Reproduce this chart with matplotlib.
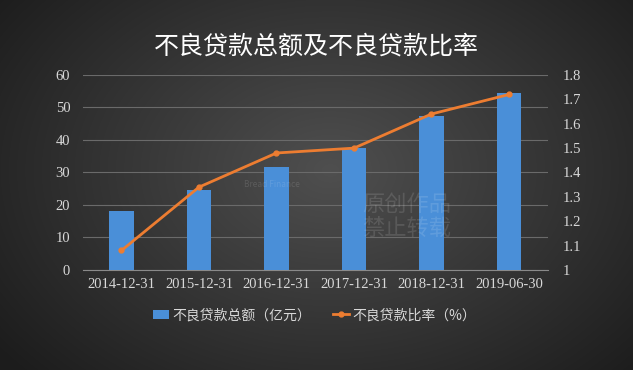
import numpy as np
import matplotlib.pyplot as plt

plt.rcParams['font.family'] = ['Noto Sans CJK SC', 'DejaVu Sans']

dates = ['2014-12-31', '2015-12-31', '2016-12-31', '2017-12-31', '2018-12-31', '2019-06-30']
npl_amount = [18.2, 24.6, 31.6, 37.4, 47.5, 54.6]
npl_ratio = [1.08, 1.34, 1.48, 1.50, 1.64, 1.72]

fig = plt.figure(figsize=(6.33, 3.70), dpi=100)

# radial gradient background
bg = fig.add_axes([0, 0, 1, 1], zorder=-10)
yy, xx = np.mgrid[0:370, 0:633]
r = np.sqrt(((xx - 330) / 420.0) ** 2 + ((yy - 170) / 300.0) ** 2)
shade = np.clip(0.31 - 0.2 * r, 0.11, 0.31)
bg.imshow(np.dstack([shade] * 3), aspect='auto', extent=[0, 1, 0, 1])
bg.axis('off')

ax = fig.add_axes([0.1307, 0.2703, 0.7346, 0.527])
ax.patch.set_alpha(0)
x = np.arange(len(dates))
ax.bar(x, npl_amount, width=0.32, color='#4a8fd8', zorder=3, label='不良贷款总额（亿元）')
ax.set_ylim(0, 60)
ax.set_yticks(range(0, 61, 10))
ax.set_xlim(-0.5, len(dates) - 0.5)
ax.set_xticks(x)
ax.set_xticklabels(dates)
ax.grid(axis='y', color='#6a6a6a', linewidth=0.8, zorder=0)
for s in ['top', 'left', 'right']:
    ax.spines[s].set_visible(False)
ax.spines['bottom'].set_color('#8a8a8a')
ax.tick_params(length=0, colors='#d8d8d8', labelsize=10.5, pad=6)
ax.tick_params(axis='y', pad=9)
for lab in ax.get_xticklabels() + ax.get_yticklabels():
    lab.set_family(['Liberation Serif', 'DejaVu Serif'])

ax2 = ax.twinx()
ax2.plot(x, npl_ratio, color='#ed7d31', linewidth=2, marker='o', markersize=3.5,
         zorder=4, label='不良贷款比率（%）')
ax2.set_ylim(1, 1.8)
ax2.set_yticks(np.arange(1, 1.81, 0.1))
ax2.set_yticklabels(['1', '1.1', '1.2', '1.3', '1.4', '1.5', '1.6', '1.7', '1.8'])
for s in ax2.spines.values():
    s.set_visible(False)
ax2.tick_params(length=0, colors='#d8d8d8', labelsize=10.5, pad=11)
for lab in ax2.get_yticklabels():
    lab.set_family(['Liberation Serif', 'DejaVu Serif'])

# watermark
fig.text(0.572, 0.415, '原创作品\n禁止转载', color='white', alpha=0.12, fontsize=16,
         ha='left', va='center', linespacing=1.1)
fig.text(0.385, 0.495, 'Bread Finance', color='white', alpha=0.12, fontsize=6)

fig.text(0.5, 0.873, '不良贷款总额及不良贷款比率', color='white', fontsize=18,
         ha='center', va='center')

h1, l1 = ax.get_legend_handles_labels()
h2, l2 = ax2.get_legend_handles_labels()
leg = fig.legend(h1 + h2, l1 + l2, loc='center', bbox_to_anchor=(0.497, 0.148), ncol=2,
                 frameon=False, fontsize=10, labelcolor='#d8d8d8', handlelength=1.15,
                 handletextpad=0.2, columnspacing=1.6)

fig.savefig('out.png', dpi=100)
